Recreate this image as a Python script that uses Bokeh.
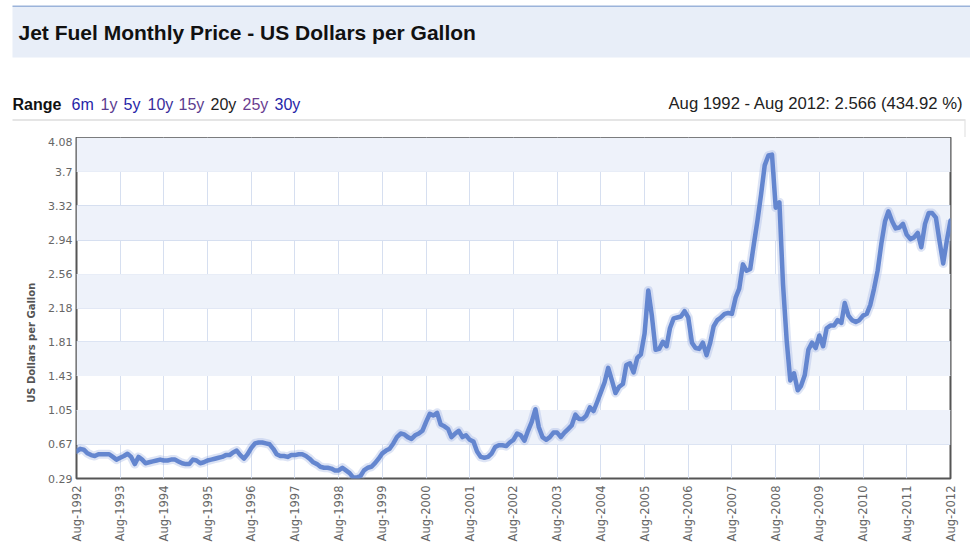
import pandas as pd
from math import pi
from bokeh.plotting import figure
from bokeh.layouts import column, row
from bokeh.models import Range1d, FixedTicker, DatetimeTickFormatter
from bokeh.core.properties import value
from bokeh.embed import file_html
from bokeh.resources import INLINE

# ---------------- data ----------------
first_month = "1992-08-01"
# monthly jet fuel price, US dollars per gallon, Aug 1992 .. Aug 2012
prices = [
    0.59, 0.62, 0.61, 0.57, 0.55, 0.54, 0.56, 0.56, 0.56, 0.56, 0.53, 0.50,   # Aug92-Jul93
    0.52, 0.54, 0.565, 0.53, 0.45, 0.53, 0.50, 0.46, 0.47, 0.48, 0.49, 0.50,  # Aug93-Jul94
    0.49, 0.49, 0.50, 0.50, 0.48, 0.46, 0.45, 0.45, 0.50, 0.49, 0.46, 0.47,   # Aug94-Jul95
    0.49, 0.50, 0.51, 0.52, 0.53, 0.55, 0.55, 0.58, 0.60, 0.55, 0.51, 0.56,   # Aug95-Jul96
    0.63, 0.68, 0.69, 0.69, 0.68, 0.67, 0.62, 0.56, 0.54, 0.54, 0.53, 0.55,   # Aug96-Jul97
    0.55, 0.56, 0.56, 0.54, 0.51, 0.47, 0.45, 0.42, 0.41, 0.41, 0.40, 0.38,   # Aug97-Jul98
    0.38, 0.41, 0.38, 0.35, 0.30, 0.30, 0.32, 0.38, 0.41, 0.42, 0.46, 0.51,   # Aug98-Jul99
    0.57, 0.60, 0.62, 0.68, 0.75, 0.79, 0.78, 0.75, 0.73, 0.77, 0.79, 0.82,   # Aug99-Jul00
    0.92, 1.01, 0.99, 1.02, 0.89, 0.87, 0.84, 0.75, 0.79, 0.82, 0.75, 0.77,   # Aug00-Jul01
    0.72, 0.70, 0.59, 0.53, 0.52, 0.53, 0.57, 0.64, 0.66, 0.66, 0.65, 0.69,   # Aug01-Jul02
    0.72, 0.79, 0.77, 0.71, 0.82, 0.92, 1.06, 0.86, 0.75, 0.72, 0.75, 0.80,   # Aug02-Jul03
    0.80, 0.75, 0.80, 0.84, 0.88, 1.00, 0.95, 0.95, 0.99, 1.08, 1.04, 1.14,   # Aug03-Jul04
    1.25, 1.36, 1.52, 1.38, 1.24, 1.31, 1.34, 1.55, 1.57, 1.47, 1.63, 1.67,   # Aug04-Jul05
    1.90, 2.38, 2.10, 1.72, 1.73, 1.81, 1.76, 1.96, 2.07, 2.08, 2.09, 2.15,   # Aug05-Jul06
    2.08, 1.80, 1.74, 1.73, 1.80, 1.66, 1.80, 1.98, 2.05, 2.08, 2.12, 2.13,   # Aug06-Jul07
    2.12, 2.30, 2.40, 2.67, 2.60, 2.62, 2.90, 3.15, 3.45, 3.77, 3.88, 3.89,   # Aug07-Jul08
    3.30, 3.36, 2.45, 1.82, 1.38, 1.46, 1.27, 1.32, 1.44, 1.72, 1.80, 1.74,   # Aug08-Jul09
    1.88, 1.76, 1.96, 1.99, 1.99, 2.05, 2.02, 2.24, 2.10, 2.05, 2.03, 2.05,   # Aug09-Jul10
    2.10, 2.12, 2.22, 2.40, 2.60, 2.90, 3.15, 3.26, 3.15, 3.07, 3.08, 3.12,   # Aug10-Jul11
    3.00, 2.95, 2.97, 3.02, 2.86, 3.12, 3.24, 3.24, 3.19, 2.93, 2.68, 2.93,   # Aug11-Jul12
    3.156,                                                                    # Aug12
]
y_ticks = [0.29, 0.67, 1.05, 1.43, 1.81, 2.18, 2.56, 2.94, 3.32, 3.7, 4.08]
y_tick_labels = ["0.29", "0.67", "1.05", "1.43", "1.81", "2.18", "2.56",
                 "2.94", "3.32", "3.7", "4.08"]
x_tick_years = list(range(1992, 2013))
title_text = "Jet Fuel Monthly Price - US Dollars per Gallon"
range_word = "Range"
range_links = ["6m", "1y", "5y", "10y", "15y", "20y", "25y", "30y"]
range_colors = ["#2626a8", "#5b3d8f", "#2626a8", "#3a2f9c", "#5b3d8f",
                "#222222", "#6a3d90", "#2626a8"]
summary_text = "Aug 1992 - Aug 2012: 2.566 (434.92 %)"
y_axis_title = "US Dollars per Gallon"

# ---------------- geometry ----------------
W, H = 970, 549
HEAD = 137                           # header strip height (above the frame)
FL, FR, FB = 76, 950, 478            # frame edges on the page

# ---------------- header strip (pixel space) ----------------
hd = figure(width=W, height=HEAD, x_range=Range1d(0, W), y_range=Range1d(HEAD, 0),
            output_backend="svg", toolbar_location=None,
            x_axis_location=None, y_axis_location=None,
            min_border=0, min_border_left=0, min_border_right=0,
            min_border_top=0, min_border_bottom=0)
hd.outline_line_color = None
hd.grid.visible = False
hd.background_fill_color = "white"
hd.border_fill_color = "white"

hd.quad(left=[12], right=[W], top=[6], bottom=[57], fill_color="#e8eef8", line_color=None)
hd.quad(left=[12], right=[W], top=[5], bottom=[6.5], fill_color="#9bb3da", line_color=None)
hd.quad(left=[12], right=[965], top=[119], bottom=[120], fill_color="#cccccc", line_color=None)
hd.quad(left=[964], right=[965], top=[120], bottom=[HEAD], fill_color="#dddddd", line_color=None)

hd.text(x=[18], y=[32], text=[title_text], text_font=value("Liberation Sans"),
        text_font_style="bold", text_font_size="21px", text_color="#111111",
        text_baseline="middle")
hd.text(x=[12], y=[104], text=[range_word], text_font=value("Liberation Sans"),
        text_font_style="bold", text_font_size="16px", text_color="#111111",
        text_baseline="middle")
link_x = [71, 100, 123, 147, 178, 210, 242, 274]
hd.text(x=link_x, y=[104] * len(link_x), text=range_links,
        text_font=value("Liberation Sans"), text_font_size="16px",
        text_color=range_colors, text_baseline="middle")
hd.text(x=[963], y=[103], text=[summary_text], text_font=value("Liberation Sans"),
        text_font_size="16.7px", text_color="#222222", text_align="right",
        text_baseline="middle")

# ---------------- main chart ----------------
dates = pd.date_range(first_month, periods=len(prices), freq="MS")
HM = H - HEAD
p = figure(width=W, height=HM, x_axis_type="datetime",
           x_range=Range1d(dates[0], dates[-1]),
           y_range=Range1d(y_ticks[0], y_ticks[-1]),
           output_backend="svg", toolbar_location=None,
           min_border_left=FL, min_border_right=W - FR,
           min_border_top=0, min_border_bottom=H - FB)
p.background_fill_color = "white"
p.border_fill_color = "white"
p.outline_line_color = "#555555"
p.outline_line_width = 2

# alternating horizontal bands
n = len(y_ticks) - 1
band_bottom = [y_ticks[i] for i in range(n) if (n - 1 - i) % 2 == 0]
band_top = [y_ticks[i + 1] for i in range(n) if (n - 1 - i) % 2 == 0]
p.quad(left=dates[0], right=dates[-1], bottom=band_bottom, top=band_top,
       fill_color="#eef2fa", line_color=None)

# line with soft shadow
p.line(dates, prices, line_width=9, color="#9db2e2", alpha=0.35, line_join="round")
p.line(dates, prices, line_width=4.5, color="#6486cf", line_join="round", line_cap="round")

# axes
tick_ms = [pd.Timestamp(f"{y}-08-01").timestamp() * 1000 for y in x_tick_years]
xax = p.xaxis[0]
xax.ticker = FixedTicker(ticks=tick_ms)
fmt = "%b-%Y"
xax.formatter = DatetimeTickFormatter(days=fmt, months=fmt, years=fmt)
xax.major_label_orientation = pi / 2
xax.major_label_text_font = "DejaVu Sans"
xax.major_label_text_font_size = "11.5px"
xax.major_label_text_color = "#666666"
xax.major_label_standoff = 7
xax.major_tick_out = 0
xax.major_tick_in = 0
xax.axis_line_color = None
xax.major_tick_line_color = None
xax.minor_tick_line_color = None

yax = p.yaxis[0]
yax.ticker = FixedTicker(ticks=y_ticks)
yax.major_label_overrides = dict(zip(y_ticks, y_tick_labels))
yax.major_label_text_font = "DejaVu Sans"
yax.major_label_text_font_size = "11px"
yax.major_label_text_color = "#666666"
yax.major_label_standoff = 4
yax.major_tick_out = 0
yax.major_tick_in = 0
yax.axis_line_color = None
yax.major_tick_line_color = None
yax.minor_tick_line_color = None
# trailing no-break spaces push the (centred) label down to where the reference shows it
yax.axis_label = y_axis_title + "\u00a0" * 20
yax.axis_label_text_font = "DejaVu Sans"
yax.axis_label_text_font_style = "bold"
yax.axis_label_text_font_size = "10px"
yax.axis_label_text_color = "#555555"
yax.axis_label_standoff = 8

p.xgrid.grid_line_color = "#d6dff0"
p.ygrid.grid_line_color = "#d6dff0"

layout = column(row(hd), row(p), spacing=0)
open("out.html", "w").write(file_html(layout, INLINE))
